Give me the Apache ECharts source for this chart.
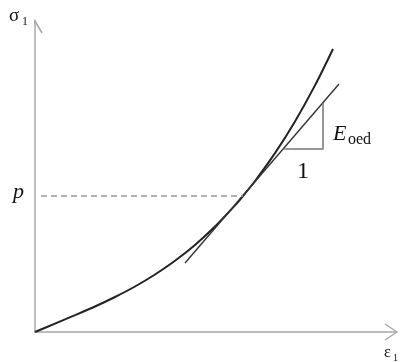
<!DOCTYPE html>
<html>
<head>
<meta charset="utf-8">
<script src="https://cdn.jsdelivr.net/npm/echarts@6/dist/echarts.min.js"></script>
<style>
  html,body{margin:0;padding:0;background:#fff;}
  #chart{width:403px;height:362px;}
</style>
</head>
<body>
<div id="chart"></div>
<script>
// 数据 (x: 应变, y: 应力, 任意单位)
var curveX = [0, 20, 40, 60, 80, 100, 120, 140, 160, 180, 200, 208, 220, 240, 260, 280, 298];
var curveY = [0, 8.4, 16.8, 25.5, 35.0, 45.5, 57.5, 71.3, 87.1, 105.5, 126.6, 136.0, 151.0, 178.9, 210.6, 246.6, 283.0];
// 切线
var tangentX = [150, 304];
var tangentY = [69, 248];
// 三角形 (E_oed : 1)
var triX = [248, 288, 288];
var triY = [183, 183, 229];
// p 虚线
var pLevel = 136;
var pX = [6, 208];
// 坐标轴范围
var xMax = 362;
var yMax = 312;

function pairs(xs, ys){
  var out = [];
  for (var i = 0; i < xs.length; i++) out.push([xs[i], ys[i]]);
  return out;
}

var chart = echarts.init(document.getElementById('chart'));
var axisGrey = '#a8a8a8';
var serif = 'Liberation Serif';

function label(x, y, text, size, italic){
  return {
    type: 'text', x: x, y: y,
    style: {
      text: text, fontFamily: serif, fontSize: size,
      fontStyle: italic ? 'italic' : 'normal',
      fill: '#111', textAlign: 'left', textVerticalAlign: 'middle'
    }
  };
}

chart.setOption({
  animation: false,
  backgroundColor: '#fff',
  grid: {left: 35, right: 6, top: 20, bottom: 30},
  xAxis: {
    type: 'value', min: 0, max: xMax,
    axisLine: {show: true, lineStyle: {color: axisGrey, width: 1.5}},
    axisTick: {show: false}, axisLabel: {show: false}, splitLine: {show: false}
  },
  yAxis: {
    type: 'value', min: 0, max: yMax,
    axisLine: {show: true, lineStyle: {color: axisGrey, width: 1.5}},
    axisTick: {show: false}, axisLabel: {show: false}, splitLine: {show: false}
  },
  series: [
    {
      // 压缩曲线
      type: 'line', smooth: 0.3, symbol: 'none', clip: false,
      data: pairs(curveX, curveY),
      lineStyle: {color: '#222', width: 2}
    },
    {
      // 切线
      type: 'line', symbol: 'none', clip: false,
      data: pairs(tangentX, tangentY),
      lineStyle: {color: '#333', width: 1.4}
    },
    {
      type: 'line', symbol: 'none', clip: false,
      data: pairs(triX, triY),
      lineStyle: {color: '#777', width: 1.5}
    },
    {
      type: 'line', symbol: 'none', clip: false,
      data: [[pX[0], pLevel], [pX[1], pLevel]],
      lineStyle: {color: '#999', width: 1.5, type: [6, 4]}
    },
    {
      // y 轴箭头
      type: 'line', symbol: 'none', clip: false,
      data: [[-7, yMax - 13], [0, yMax - 1], [7, yMax - 13]],
      lineStyle: {color: axisGrey, width: 1.5}
    },
    {
      // x 轴箭头
      type: 'line', symbol: 'none', clip: false,
      data: [[xMax - 12, 8], [xMax, 0], [xMax - 12, -8]],
      lineStyle: {color: axisGrey, width: 1.5}
    }
  ],
  graphic: [
    label(9, 16, 'σ', 19, false),
    label(22, 22, '1', 12, false),
    label(384, 353, 'ε', 16, false),
    label(393, 358, '1', 10, false),
    label(13, 192, 'p', 22, true),
    label(297, 172, '1', 24, false),
    label(333, 134, 'E', 22, true),
    label(348, 140, 'oed', 16, false)
  ]
});
</script>
</body>
</html>
